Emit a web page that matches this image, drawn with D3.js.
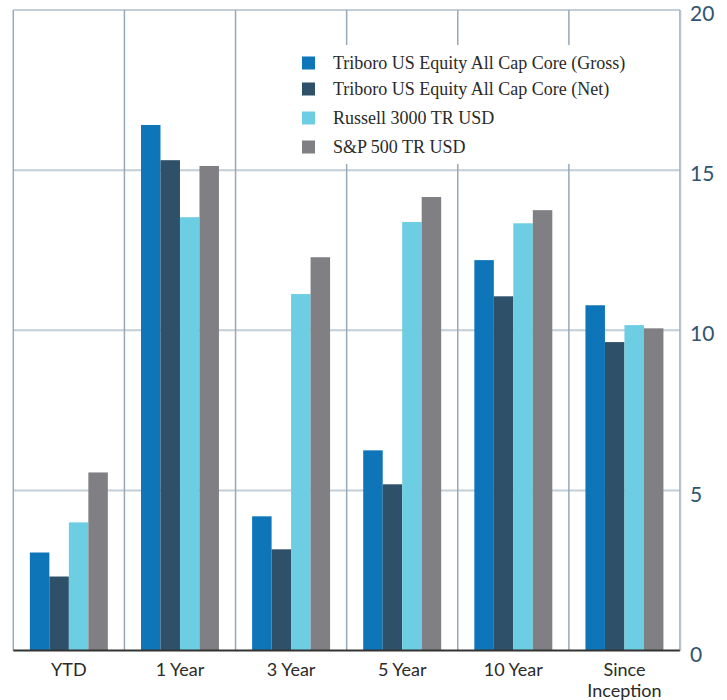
<!DOCTYPE html>
<html><head><meta charset="utf-8">
<script src="https://cdn.jsdelivr.net/npm/d3@7"></script>
<style>body{margin:0;background:#fff;} svg{display:block;}</style>
</head><body>
<svg id="chart" width="727" height="700"></svg>
<script>
const categories = ["YTD", "1 Year", "3 Year", "5 Year", "10 Year", "Since Inception"];
const seriesNames = [
  "Triboro US Equity All Cap Core (Gross)",
  "Triboro US Equity All Cap Core (Net)",
  "Russell 3000 TR USD",
  "S&P 500 TR USD"
];
const grossValues = [3.06, 16.41, 4.19, 6.25, 12.19, 10.78];
const netValues = [2.31, 15.31, 3.16, 5.19, 11.06, 9.63];
const russellValues = [4.00, 13.53, 11.13, 13.38, 13.34, 10.16];
const spValues = [5.56, 15.13, 12.28, 14.16, 13.75, 10.06];
const yTicks = [0, 5, 10, 15, 20];
const colors = ["#0e75b8", "#2e5068", "#6ccde3", "#808084"];

(function () {
const allSeries = [grossValues, netValues, russellValues, spValues];
const rows = categories.map((c, i) => ({cat: c, vals: allSeries.map((s, k) => ({k, v: s[i]}))}));

const svg = d3.select("#chart");
const mLeft = 13.3, mRight = 680, mTop = 10, mBottom = 650.5;

const x0 = d3.scaleBand().domain(categories).range([mLeft, mRight]).padding(0);
const x1 = d3.scaleBand().domain(d3.range(4)).range([0, x0.bandwidth()]).paddingInner(0).paddingOuter(0.85);
const y = d3.scaleLinear().domain([0, 20]).range([mBottom, mTop]);

// horizontal gridlines
svg.append("g").selectAll("line").data(yTicks.filter(t => t > 0)).join("line")
  .attr("x1", mLeft).attr("x2", mRight)
  .attr("y1", d => y(d)).attr("y2", d => y(d))
  .attr("stroke", "#c3ced7").attr("stroke-width", 2);

// vertical gridlines
const vx = categories.map(c => x0(c)).concat([mRight]);
svg.append("g").selectAll("line").data(vx).join("line")
  .attr("x1", d => d).attr("x2", d => d)
  .attr("y1", mTop).attr("y2", mBottom)
  .attr("stroke", "#97a8b6").attr("stroke-width", 1.5);

// bars
const g = svg.append("g").selectAll("g").data(rows).join("g")
  .attr("transform", d => `translate(${x0(d.cat)},0)`);
g.selectAll("rect").data(d => d.vals).join("rect")
  .attr("x", d => x1(d.k)).attr("width", x1.bandwidth())
  .attr("y", d => y(d.v)).attr("height", d => y(0) - y(d.v))
  .attr("fill", d => colors[d.k]);

// baseline
svg.append("line").attr("x1", mLeft).attr("x2", mRight)
  .attr("y1", mBottom).attr("y2", mBottom)
  .attr("stroke", "#333").attr("stroke-width", 2);

// right axis
const yAxis = d3.axisRight(y).tickValues(yTicks).tickSize(0).tickPadding(10);
const ay = svg.append("g").attr("transform", `translate(${mRight},0)`).call(yAxis);
ay.select(".domain").attr("stroke", "#b8c4ce").attr("stroke-width", 1.5);
ay.selectAll("text").attr("fill", "#2f5470").attr("font-family", "Lato, 'Open Sans', sans-serif")
  .attr("font-size", 21).attr("y", 4);

// category labels
const xAxis = d3.axisBottom(x0).tickSize(0).tickPadding(0);
const ax = svg.append("g").attr("transform", `translate(0,${mBottom})`).call(xAxis);
ax.select(".domain").remove();
ax.selectAll(".tick text").each(function(d) {
  const t = d3.select(this);
  t.text(null).attr("y", 0).attr("dy", null)
    .attr("fill", "#2a2a2a").attr("font-family", "Lato, 'Open Sans', sans-serif").attr("font-size", 18);
  const words = d === "Since Inception" ? ["Since", "Inception"] : [d];
  words.forEach((w, i) => t.append("tspan").attr("x", 0).attr("y", 25.5 + i * 20.5).text(w));
});

// legend
svg.append("rect").attr("x", 290).attr("y", 45).attr("width", 350).attr("height", 119).attr("fill", "#fff");
const legY = [63, 89, 118, 147];
const leg = svg.append("g").selectAll("g").data(seriesNames).join("g")
  .attr("transform", (d, i) => `translate(302,${legY[i]})`);
leg.append("rect").attr("x", 0).attr("y", -6.5).attr("width", 13).attr("height", 13)
  .attr("fill", (d, i) => colors[i]);
leg.append("text").attr("x", 31).attr("y", 0).attr("dy", "0.35em")
  .attr("font-family", "'Liberation Serif', 'DejaVu Serif', serif").attr("font-size", 18)
  .attr("fill", "#2a2a2a").text(d => d);
})();
</script>
</body></html>
